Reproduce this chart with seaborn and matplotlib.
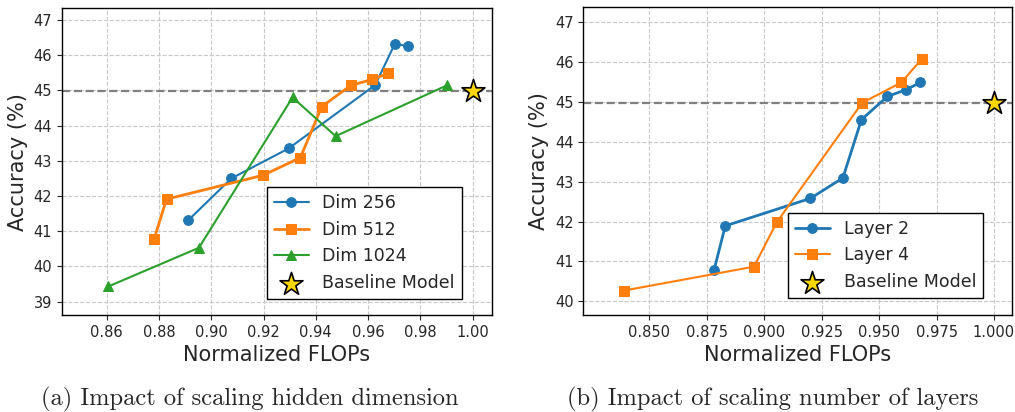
import matplotlib
matplotlib.use("Agg")
import matplotlib.pyplot as plt
import numpy as np
import pandas as pd
import seaborn as sns

# (a) hidden dimension
dim256_flops = [0.8912, 0.9077, 0.9296, 0.9627, 0.9703, 0.9751]
dim256_acc = [41.31, 42.50, 43.35, 45.15, 46.33, 46.25]
dim512_flops = [0.8782, 0.8829, 0.9199, 0.9341, 0.9423, 0.9534, 0.9616, 0.9675]
dim512_acc = [40.79, 41.91, 42.59, 43.09, 44.54, 45.14, 45.31, 45.48]
dim1024_flops = [0.8606, 0.8953, 0.9311, 0.9476, 0.9901]
dim1024_acc = [39.43, 40.53, 44.80, 43.70, 45.14]

# (b) number of layers
layer2_flops = [0.8781, 0.8830, 0.9201, 0.9342, 0.9423, 0.9536, 0.9618, 0.9679]
layer2_acc = [40.78, 41.89, 42.58, 43.09, 44.55, 45.13, 45.30, 45.48]
layer4_flops = [0.8387, 0.8955, 0.9054, 0.9426, 0.9597, 0.9686]
layer4_acc = [40.27, 40.87, 41.98, 44.97, 45.48, 46.07]

baseline_flops = 1.0
baseline_acc = 44.97

captions = ["(a) Impact of scaling hidden dimension",
            "(b) Impact of scaling number of layers"]

sns.set_style("ticks")
plt.rcParams["font.family"] = ["DejaVu Sans"]

fig = plt.figure(figsize=(10.15, 4.12), dpi=100)
ax1 = fig.add_axes([0.0608, 0.2354, 0.4239, 0.7444])
ax2 = fig.add_axes([0.5747, 0.2354, 0.4227, 0.7468])

blue, orange, green = "#1f77b4", "#ff7f0e", "#2ca02c"


def draw(ax, series):
    for flops, acc, label, color, marker, lw in series:
        df = pd.DataFrame({"flops": flops, "acc": acc})
        sns.lineplot(data=df, x="flops", y="acc", ax=ax, sort=False,
                     color=color, marker=marker, markersize=7,
                     markeredgecolor=color, linewidth=lw, label=label)
    ax.axhline(baseline_acc, color="gray", linestyle="--", linewidth=1.6, zorder=1)
    sns.scatterplot(x=[baseline_flops], y=[baseline_acc], ax=ax, marker="*",
                    s=300, color="gold", edgecolor="black", linewidth=1.2,
                    zorder=5, label="Baseline Model")
    ax.grid(True, linestyle="--", color="#c8c8c8", linewidth=0.8)
    ax.set_axisbelow(True)
    ax.set_xlabel("Normalized FLOPs", fontsize=15, labelpad=4)
    ax.set_ylabel("Accuracy (%)", fontsize=15)
    ax.tick_params(labelsize=10.5)
    for s in ax.spines.values():
        s.set_color("black")
        s.set_linewidth(1.0)


draw(ax1, [
    (dim256_flops, dim256_acc, "Dim 256", blue, "o", 1.5),
    (dim512_flops, dim512_acc, "Dim 512", orange, "s", 2.0),
    (dim1024_flops, dim1024_acc, "Dim 1024", green, "^", 1.5),
])
ax1.set_xlim(0.8428, 1.0074)
ax1.set_ylim(38.62, 47.33)
ax1.set_xticks(np.arange(0.86, 1.001, 0.02))
ax1.set_xticklabels([f"{v:.2f}" for v in np.arange(0.86, 1.001, 0.02)])
ax1.set_yticks(range(39, 48))

draw(ax2, [
    (layer2_flops, layer2_acc, "Layer 2", blue, "o", 2.0),
    (layer4_flops, layer4_acc, "Layer 4", orange, "s", 1.5),
])
ax2.set_xlim(0.8212, 1.008)
ax2.set_ylim(39.66, 47.36)
ax2.set_xticks(np.arange(0.85, 1.001, 0.025))
ax2.set_xticklabels([f"{v:.3f}" for v in np.arange(0.85, 1.001, 0.025)])
ax2.set_yticks(range(40, 48))

for ax, anchor in [(ax1, (0.93, 0.052)), (ax2, (0.932, 0.055))]:
    leg = ax.legend(loc="lower right", bbox_to_anchor=anchor, borderaxespad=0,
                    fontsize=12.5, fancybox=False, framealpha=1,
                    edgecolor="black")
    leg.get_frame().set_linewidth(1.0)

fig.text(0.2463, 0.016, captions[0], ha="center", va="baseline",
         fontsize=17.6, family="cmr10")
fig.text(0.7616, 0.016, captions[1], ha="center", va="baseline",
         fontsize=17.6, family="cmr10")

fig.savefig("out.png", dpi=100)
